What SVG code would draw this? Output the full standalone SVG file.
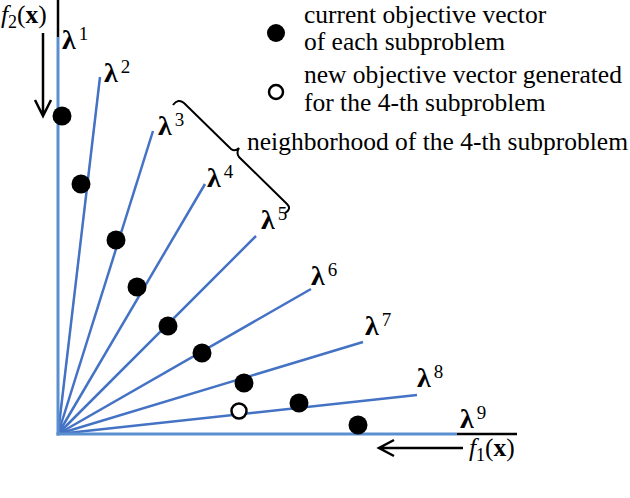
<svg xmlns="http://www.w3.org/2000/svg" width="630" height="498" viewBox="0 0 630 498">
<style>
.t{font-family:"Liberation Serif","Times New Roman",serif;font-size:25.5px;fill:#000}
.lam{font-family:"Liberation Serif","Times New Roman",serif;font-size:28px;font-weight:bold;fill:#000}
.sup{font-weight:normal;font-size:19px}
.ray{stroke:#4472C4;stroke-width:2.5;fill:none}
.ax{stroke:#5A8FD0;stroke-width:3;fill:none}
.blk{stroke:#000;stroke-width:2.5;fill:none}
.dot{fill:#000}
.open{fill:#fff;stroke:#000;stroke-width:2.5}
</style>
<rect width="630" height="498" fill="#fff"/>
<g id="connectors">
  <line class="ray" x1="58" y1="434" x2="100" y2="77"/>
  <line class="ray" x1="58" y1="434" x2="153" y2="131"/>
  <line class="ray" x1="58" y1="434" x2="205" y2="184"/>
  <line class="ray" x1="58" y1="434" x2="256" y2="236"/>
  <line class="ray" x1="58" y1="434" x2="311" y2="289"/>
  <line class="ray" x1="58" y1="434" x2="363" y2="342"/>
  <line class="ray" x1="58" y1="434" x2="417" y2="395"/>
  <line class="ax" x1="58" y1="37" x2="58" y2="435.5"/>
  <line class="ax" x1="56.5" y1="434" x2="457" y2="434"/>
  <line class="blk" x1="58" y1="0" x2="58" y2="37"/>
  <line class="blk" x1="457" y1="434" x2="517" y2="434"/>
  <path class="blk" d="M43,33 V116 M35,100 L43,116 L51,100"/>
  <path class="blk" d="M463,448 H379 M394,440 L379,448 L394,456"/>
  <path d="M173,105 Q178,98 184,103 L231,149 Q235,152 239,148 Q236,153 239,157 L287,204 Q292,209 285,213" stroke="#000" stroke-width="2" fill="none"/>
</g>
<g id="axis-labels">
  <text class="t" x="1" y="23" font-size="27"><tspan font-style="italic">f</tspan><tspan font-size="18" dy="5">2</tspan><tspan dy="-5">(</tspan><tspan font-weight="bold">x</tspan><tspan>)</tspan></text>
  <text class="t" x="469" y="456" font-size="27"><tspan font-style="italic">f</tspan><tspan font-size="18" dy="5">1</tspan><tspan dy="-5">(</tspan><tspan font-weight="bold">x</tspan><tspan>)</tspan></text>
</g>
<g id="weights">
  <text class="lam" x="62" y="49">λ<tspan class="sup" dx="3" dy="-9">1</tspan></text>
  <text class="lam" x="104" y="82">λ<tspan class="sup" dx="3" dy="-9">2</tspan></text>
  <text class="lam" x="158" y="135">λ<tspan class="sup" dx="3" dy="-9">3</tspan></text>
  <text class="lam" x="207" y="187">λ<tspan class="sup" dx="3" dy="-9">4</tspan></text>
  <text class="lam" x="261" y="229">λ<tspan class="sup" dx="3" dy="-9">5</tspan></text>
  <text class="lam" x="311" y="285">λ<tspan class="sup" dx="3" dy="-9">6</tspan></text>
  <text class="lam" x="365" y="335">λ<tspan class="sup" dx="3" dy="-9">7</tspan></text>
  <text class="lam" x="417" y="387">λ<tspan class="sup" dx="3" dy="-9">8</tspan></text>
  <text class="lam" x="460" y="428">λ<tspan class="sup" dx="3" dy="-9">9</tspan></text>
</g>
<g id="solutions">
  <circle class="dot" cx="62" cy="116" r="9.5"/>
  <circle class="dot" cx="81" cy="184" r="9.5"/>
  <circle class="dot" cx="116" cy="240" r="9.5"/>
  <circle class="dot" cx="137" cy="287" r="9.5"/>
  <circle class="dot" cx="168" cy="326" r="9.5"/>
  <circle class="dot" cx="202" cy="353" r="9.5"/>
  <circle class="dot" cx="244" cy="383" r="9.5"/>
  <circle class="dot" cx="299" cy="403" r="9.5"/>
  <circle class="dot" cx="358" cy="425" r="9.5"/>
  <circle class="open" cx="239" cy="411" r="7.5"/>
</g>
<g id="legend">
  <circle class="dot" cx="276" cy="33" r="9"/>
  <text class="t" x="304" y="23">current objective vector</text>
  <text class="t" x="304" y="50">of each subproblem</text>
  <circle class="open" cx="276" cy="92" r="7"/>
  <text class="t" x="304" y="83">new objective vector generated</text>
  <text class="t" x="304" y="111">for the 4-th subproblem</text>
</g>
<g id="neighborhood-label">
  <text class="t" x="247" y="150">neighborhood of the 4-th subproblem</text>
</g>
</svg>
